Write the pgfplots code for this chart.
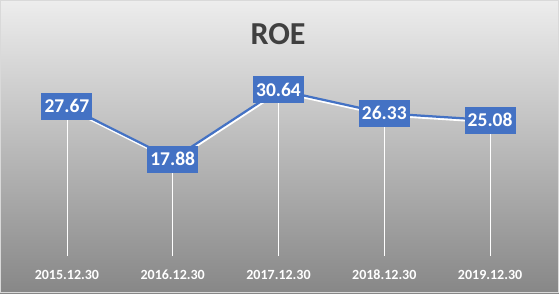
\documentclass[border=0pt]{standalone}
\usepackage{pgfplots}
\pgfplotsset{compat=1.18}
\usepackage{fontspec}
\setmainfont{Carlito}
\definecolor{bgtop}{HTML}{EDEDED}
\definecolor{bgmid}{HTML}{E9E9E9}
\definecolor{bgbot}{HTML}{878787}
\definecolor{frame}{HTML}{D9D9D9}
\definecolor{titlec}{HTML}{404040}
\definecolor{lineblue}{HTML}{4472C4}
\begin{document}
\begin{tikzpicture}[x=1pt,y=1pt]
\shade[top color=bgtop, middle color=bgmid, bottom color=bgbot] (0,0) rectangle (559,293);
\draw[frame, line width=1pt] (0.5,0.5) rectangle (558.5,292.5);
\node[font=\fontsize{32}{36}\selectfont\bfseries, text=titlec] at (278,259) {ROE};
\begin{axis}[
  at={(14pt,37pt)}, anchor=south west,
  scale only axis, width=529pt, height=189.7pt,
  xmin=-0.5, xmax=4.5, ymin=0, ymax=35,
  clip=false,
  axis line style={draw=none},
  major tick length=0pt,
  ytick=\empty,
  xtick={0,1,2,3,4},
  xticklabels={2015.12.30,2016.12.30,2017.12.30,2018.12.30,2019.12.30},
  xticklabel style={anchor=center, yshift=-19pt, text=white, font=\fontsize{14}{16}\selectfont\bfseries},
]
\addplot[ycomb, white, line width=0.8pt, mark=none] coordinates {(0,27.67) (1,17.88) (2,30.64) (3,26.33) (4,25.08)};
\addplot[white, line width=2.5pt, mark=none, yshift=-1.8pt, xshift=0.6pt] coordinates {(0,27.67) (1,17.88) (2,30.64) (3,26.33) (4,25.08)};
\addplot[lineblue, line width=2.25pt, mark=none] coordinates {(0,27.67) (1,17.88) (2,30.64) (3,26.33) (4,25.08)};
\addplot[draw=none, mark=none, point meta=explicit symbolic,
  nodes near coords,
  nodes near coords style={anchor=center, fill=lineblue, text=white, inner sep=0pt,
    minimum width=51pt, minimum height=27pt, font=\fontsize{19.5}{22}\selectfont\bfseries}]
  table[meta=label] {
x y label
0 27.67 27.67
1 17.88 17.88
2 30.64 30.64
3 26.33 26.33
4 25.08 25.08
};
\end{axis}
\end{tikzpicture}
\end{document}
